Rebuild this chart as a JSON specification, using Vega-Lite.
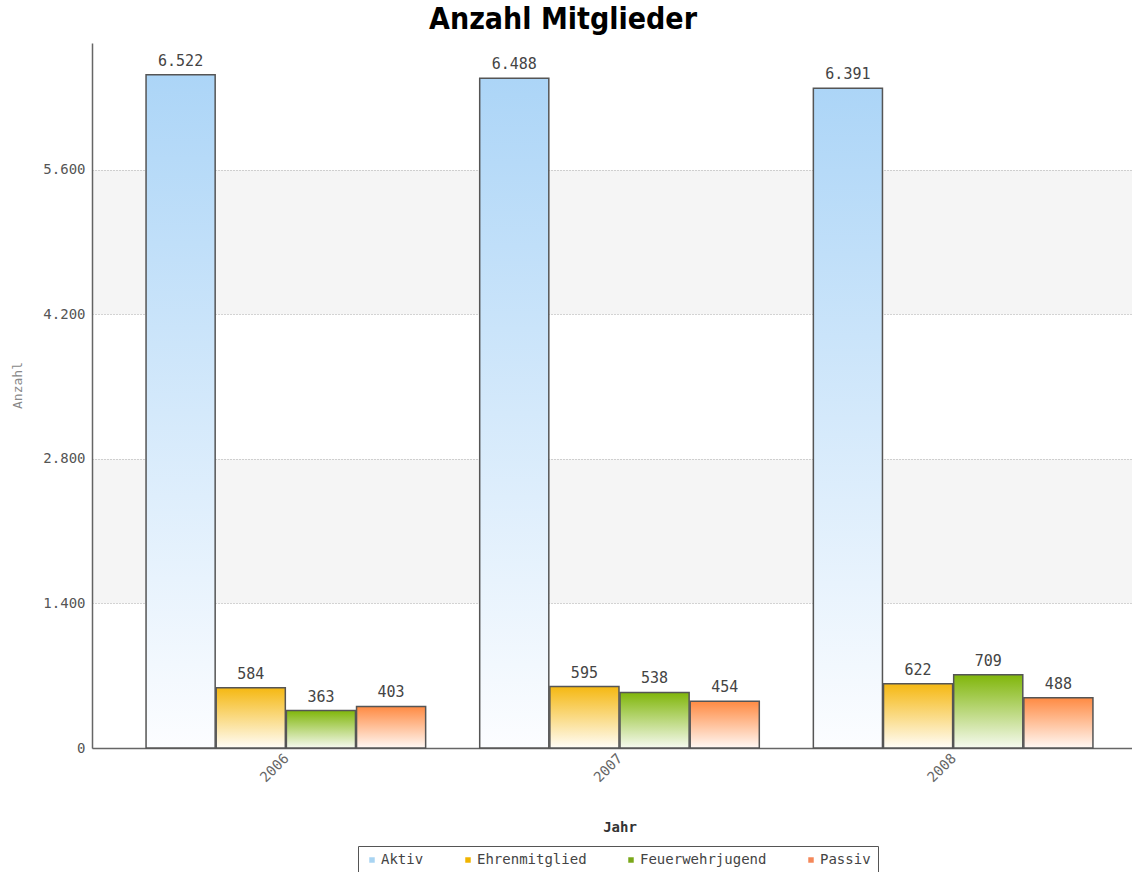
{
  "$schema": "https://vega.github.io/schema/vega-lite/v6.json",
  "width": 1040,
  "height": 705,
  "autosize": {"type": "none"},
  "padding": {"left": 92, "top": 43, "right": 0, "bottom": 124},
  "background": "#ffffff",
  "config": {
    "locale": {"number": {"decimal": ",", "thousands": ".", "grouping": [3], "currency": ["", " €"]}},
    "view": {"stroke": null}
  },
  "title": {
    "text": "Anzahl Mitglieder",
    "font": "DejaVu Sans Condensed",
    "fontSize": 30,
    "fontWeight": "bold",
    "color": "#000000",
    "anchor": "middle",
    "frame": "group",
    "baseline": "alphabetic",
    "offset": 11,
    "dx": -49,
    "dy": 27
  },
  "datasets": {
    "mitglieder": [
      {"Jahr": "2006", "Kategorie": "Aktiv", "Anzahl": 6522},
      {"Jahr": "2006", "Kategorie": "Ehrenmitglied", "Anzahl": 584},
      {"Jahr": "2006", "Kategorie": "Feuerwehrjugend", "Anzahl": 363},
      {"Jahr": "2006", "Kategorie": "Passiv", "Anzahl": 403},
      {"Jahr": "2007", "Kategorie": "Aktiv", "Anzahl": 6488},
      {"Jahr": "2007", "Kategorie": "Ehrenmitglied", "Anzahl": 595},
      {"Jahr": "2007", "Kategorie": "Feuerwehrjugend", "Anzahl": 538},
      {"Jahr": "2007", "Kategorie": "Passiv", "Anzahl": 454},
      {"Jahr": "2008", "Kategorie": "Aktiv", "Anzahl": 6391},
      {"Jahr": "2008", "Kategorie": "Ehrenmitglied", "Anzahl": 622},
      {"Jahr": "2008", "Kategorie": "Feuerwehrjugend", "Anzahl": 709},
      {"Jahr": "2008", "Kategorie": "Passiv", "Anzahl": 488}
    ],
    "baender": [
      {"von": 1400, "bis": 2800},
      {"von": 4200, "bis": 5600}
    ]
  },
  "layer": [
    {
      "data": {"name": "baender"},
      "mark": {"type": "rect", "fill": "#000000", "opacity": 0.04},
      "encoding": {
        "y": {
          "field": "von", "type": "quantitative",
          "scale": {"domain": [0, 6830], "nice": false, "zero": true},
          "axis": {
            "title": "Anzahl",
            "values": [0, 1400, 2800, 4200, 5600],
            "format": ",d",
            "grid": true,
            "gridDash": [1, 2],
            "gridColor": "#b0b0b0",
            "gridWidth": 1,
            "ticks": false,
            "tickSize": 0,
            "labelPadding": 7,
            "labelFont": "DejaVu Sans Mono",
            "labelFontSize": 14,
            "labelColor": "#555555",
            "domainColor": "#666666",
            "domainWidth": 1.5,
            "titleFont": "DejaVu Sans Mono",
            "titleFontSize": 13,
            "titleFontWeight": "normal",
            "titleColor": "#888888",
            "titleX": -75,
            "titleY": 342,
            "titleAlign": "center",
            "titleBaseline": "middle"
          }
        },
        "y2": {"field": "bis"}
      }
    },
    {
      "data": {"name": "mitglieder"},
      "mark": {"type": "bar", "stroke": "#555555", "strokeWidth": 1.5},
      "encoding": {
        "x": {
          "field": "Jahr", "type": "nominal",
          "scale": {"range": [0, 1055], "paddingInner": 0.162, "paddingOuter": 0.162},
          "axis": {
            "title": "Jahr",
            "labelAngle": -45,
            "labelFont": "DejaVu Sans Mono",
            "labelFontSize": 14,
            "labelColor": "#666666",
            "labelPadding": 3,
            "labelOffset": -4,
            "ticks": false,
            "tickSize": 0,
            "domainColor": "#666666",
            "domainWidth": 1.5,
            "grid": false,
            "titleFont": "DejaVu Sans Mono",
            "titleFontSize": 14,
            "titleFontWeight": "bold",
            "titleColor": "#333333",
            "titleY": 83,
            "titleBaseline": "alphabetic"
          }
        },
        "xOffset": {
          "field": "Kategorie", "type": "nominal",
          "scale": {"domain": ["Aktiv", "Ehrenmitglied", "Feuerwehrjugend", "Passiv"], "paddingInner": 0.015, "paddingOuter": 0}
        },
        "y": {
          "field": "Anzahl", "type": "quantitative",
          "scale": {"domain": [0, 6830], "nice": false}
        },
        "fill": {
          "field": "Kategorie", "type": "nominal",
          "scale": {"domain": ["Aktiv", "Ehrenmitglied", "Feuerwehrjugend", "Passiv"], "range": ["#a8d4f2", "#f0b400", "#7aa81a", "#f4885a"]},
          "legend": {
            "title": null,
            "orient": "none",
            "legendX": 266,
            "legendY": 803,
            "direction": "horizontal",
            "symbolType": "square",
            "symbolSize": 30,
            "symbolStrokeWidth": 0,
            "labelFont": "DejaVu Sans Mono",
            "labelFontSize": 14,
            "labelColor": "#444444",
            "labelOffset": 2,
            "columnPadding": 37,
            "padding": 7,
            "strokeColor": "#555555",
            "fillColor": "#ffffff"
          },
          "condition": [
            {"test": "datum.Kategorie === 'Aktiv'", "value": {"gradient": "linear", "x1": 0, "y1": 0, "x2": 0, "y2": 1, "stops": [{"offset": 0, "color": "#acd5f7"}, {"offset": 1, "color": "#fcfdff"}]}},
            {"test": "datum.Kategorie === 'Ehrenmitglied'", "value": {"gradient": "linear", "x1": 0, "y1": 0, "x2": 0, "y2": 1, "stops": [{"offset": 0, "color": "#f5b812"}, {"offset": 1, "color": "#fffdf7"}]}},
            {"test": "datum.Kategorie === 'Feuerwehrjugend'", "value": {"gradient": "linear", "x1": 0, "y1": 0, "x2": 0, "y2": 1, "stops": [{"offset": 0, "color": "#80b60a"}, {"offset": 1, "color": "#f6faf0"}]}},
            {"test": "datum.Kategorie === 'Passiv'", "value": {"gradient": "linear", "x1": 0, "y1": 0, "x2": 0, "y2": 1, "stops": [{"offset": 0, "color": "#ff8a42"}, {"offset": 1, "color": "#fff8f4"}]}}
          ]
        }
      }
    },
    {
      "data": {"name": "mitglieder"},
      "mark": {"type": "text", "font": "DejaVu Sans Mono", "fontSize": 15, "color": "#444444", "baseline": "alphabetic", "dy": -9},
      "encoding": {
        "x": {"field": "Jahr", "type": "nominal"},
        "xOffset": {"field": "Kategorie", "type": "nominal"},
        "y": {"field": "Anzahl", "type": "quantitative"},
        "text": {"field": "Anzahl", "type": "quantitative", "format": ",d"}
      }
    }
  ]
}
